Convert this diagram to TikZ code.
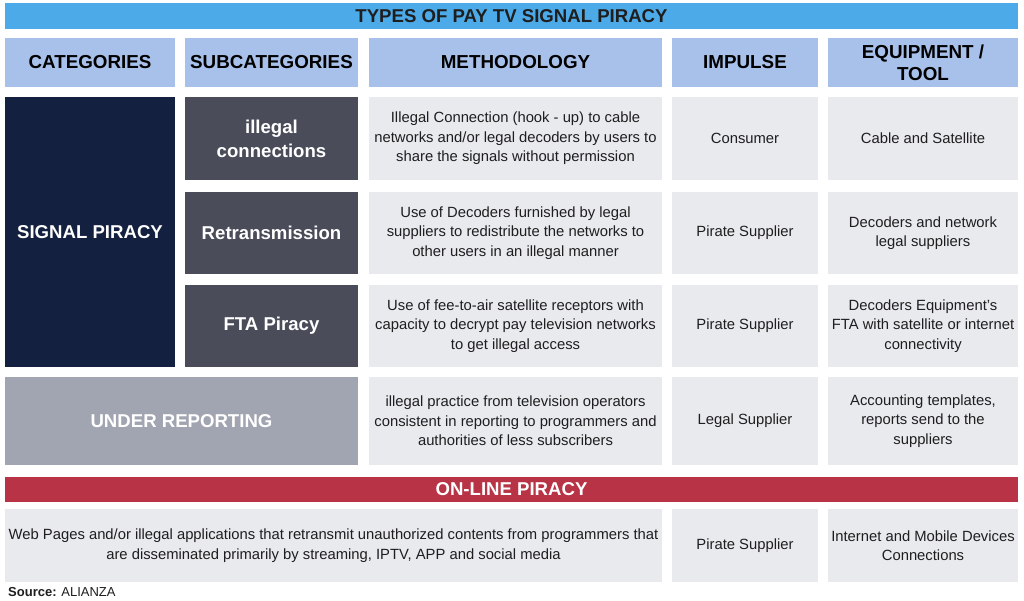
\documentclass[tikz,border=0pt]{standalone}
\usepackage{fontspec}
\setmainfont{Liberation Sans}
\usetikzlibrary{positioning}

\definecolor{titleblue}{HTML}{4DAAE9}
\definecolor{headblue}{HTML}{A8C1EB}
\definecolor{navy}{HTML}{14203F}
\definecolor{subgrey}{HTML}{4A4C5A}
\definecolor{cellgrey}{HTML}{E9EAEE}
\definecolor{urgrey}{HTML}{A1A4B1}
\definecolor{redbar}{HTML}{B83345}
\definecolor{txtdark}{HTML}{1E1E1E}

\tikzset{
  box/.style={anchor=north west,inner sep=0pt,outer sep=0pt,align=center},
  bar/.style={box,text=txtdark,font=\bfseries\fontsize{18.6}{21}\selectfont},
  head/.style={box,fill=headblue,text=black,font=\bfseries\fontsize{18.8}{22}\selectfont},
  cat/.style={box,text=white,font=\bfseries\fontsize{18.6}{24}\selectfont},
  cell/.style={box,fill=cellgrey,text=txtdark,font=\fontsize{14.8}{19.5}\selectfont}
}

\begin{document}
\begin{tikzpicture}[x=1pt,y=-1pt]
\useasboundingbox[fill=white] (0,0) rectangle (1024,601);

% title
\node[bar,fill=titleblue,minimum width=1013pt,minimum height=26pt] (title) at (5,3) {TYPES OF PAY TV SIGNAL PIRACY};

% column heads
\node[head,minimum width=170pt,minimum height=49pt] (hcat) at (5,38) {CATEGORIES};
\node[head,minimum width=173pt,minimum height=49pt] (hsub) at (185,38) {SUBCATEGORIES};
\node[head,minimum width=293pt,minimum height=49pt] (hmeth) at (369,38) {METHODOLOGY};
\node[head,minimum width=146pt,minimum height=49pt] (himp) at (672,38) {IMPULSE};
\node[head,minimum width=190pt,minimum height=49pt] (hequ) at (828,38) {EQUIPMENT /\\TOOL};

% signal piracy
\node[cat,fill=navy,minimum width=170pt,minimum height=270pt] (sig) at (5,97) {SIGNAL PIRACY};

\node[cat,fill=subgrey,minimum width=173pt,minimum height=83pt] (sub1) at (185,97) {illegal\\connections};
\node[cell,minimum width=293pt,minimum height=83pt] (meth1) at (369,97) {Illegal Connection (hook - up) to cable\\networks and/or legal decoders by users to\\share the signals without permission};
\node[cell,minimum width=146pt,minimum height=83pt] (imp1) at (672,97) {Consumer};
\node[cell,minimum width=190pt,minimum height=83pt] (equ1) at (828,97) {Cable and Satellite};

\node[cat,fill=subgrey,minimum width=173pt,minimum height=82pt] (sub2) at (185,192) {Retransmission};
\node[cell,minimum width=293pt,minimum height=82pt] (meth2) at (369,192) {Use of Decoders furnished by legal\\suppliers to redistribute the networks to\\other users in an illegal manner};
\node[cell,minimum width=146pt,minimum height=82pt] (imp2) at (672,192) {Pirate Supplier};
\node[cell,minimum width=190pt,minimum height=82pt] (equ2) at (828,192) {Decoders and network\\legal suppliers};

\node[cat,fill=subgrey,minimum width=173pt,minimum height=82pt] (sub3) at (185,285) {FTA Piracy};
\node[cell,minimum width=293pt,minimum height=82pt] (meth3) at (369,285) {Use of fee-to-air satellite receptors with\\capacity to decrypt pay television networks\\to get illegal access};
\node[cell,minimum width=146pt,minimum height=82pt] (imp3) at (672,285) {Pirate Supplier};
\node[cell,minimum width=190pt,minimum height=82pt] (equ3) at (828,285) {Decoders Equipment’s\\FTA with satellite or internet\\connectivity};

% under reporting
\node[cat,fill=urgrey,minimum width=353pt,minimum height=88pt] (under) at (5,377) {UNDER REPORTING};
\node[cell,minimum width=293pt,minimum height=88pt] (meth4) at (369,377) {illegal practice from television operators\\consistent in reporting to programmers and\\authorities of less subscribers};
\node[cell,minimum width=146pt,minimum height=88pt] (imp4) at (672,377) {Legal Supplier};
\node[cell,minimum width=190pt,minimum height=88pt] (equ4) at (828,377) {Accounting templates,\\reports send to the\\suppliers};

% on-line piracy
\node[bar,fill=redbar,text=white,minimum width=1013pt,minimum height=25pt] (online) at (5,477) {ON-LINE PIRACY};
\node[cell,minimum width=657pt,minimum height=73pt] (web) at (5,509) {Web Pages and/or illegal applications that retransmit unauthorized contents from programmers that\\are disseminated primarily by streaming, IPTV, APP and social media};
\node[cell,minimum width=146pt,minimum height=73pt] (imp5) at (672,509) {Pirate Supplier};
\node[cell,minimum width=190pt,minimum height=73pt] (equ5) at (828,509) {Internet and Mobile Devices\\Connections};

% source
\node[anchor=west,inner sep=0pt,text=txtdark,font=\fontsize{13}{15}\selectfont] (src) at (8,592) {\textbf{Source:} ALIANZA};
\end{tikzpicture}
\end{document}
